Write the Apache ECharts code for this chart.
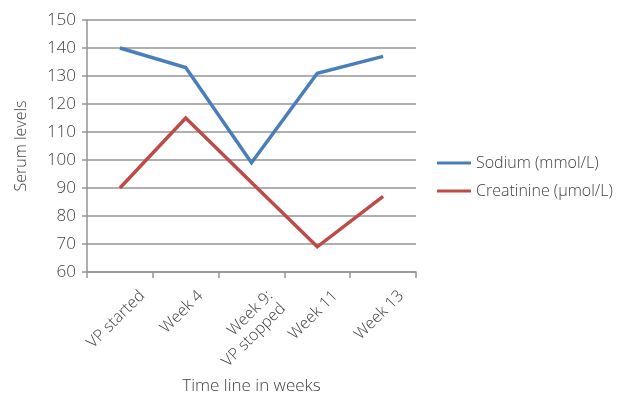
<!DOCTYPE html>
<html>
<head>
<meta charset="utf-8">
<script src="https://cdn.jsdelivr.net/npm/echarts@6/dist/echarts.min.js"></script>
<style>
  html, body { margin: 0; padding: 0; background: #fff; }
  #chart { width: 628px; height: 401px; }
</style>
</head>
<body>
<div id="chart"></div>
<script>
const categories = ['VP started', 'Week 4', 'Week 9:\nVP stopped', 'Week 11', 'Week 13'];
const sodium = [140, 133, 99, 131, 137];
const creatinine = [90, 115, 92, 69, 87];
const seriesNames = ['Sodium (mmol/L)', 'Creatinine (\u00b5mol/L)'];

const textColor = '#404040';
const font = '"Open Sans", "Noto Sans", sans-serif';
const labelSize = 16;
const labelLineHeight = 18;

// Excel centres the rotated label box under the category and hangs it from the axis.
// Centre-aligned text + right padding moves it back along the text, top padding moves it
// across; equal amounts of both give a straight drop of half the rotated box height.
const measureCtx = document.createElement('canvas').getContext('2d');
measureCtx.font = '300 ' + labelSize + 'px ' + font;
function labelStyle(text) {
  const lines = text.split('\n');
  const w = Math.max(...lines.map((l) => measureCtx.measureText(l).width));
  const h = lines.length * labelLineHeight;
  const along = (w + h) / 2 + 11;
  const across = Math.max(0, (w + h) / 4 - h / 2);
  // item textStyle does not inherit align from axisLabel, so set it here too
  return {
    align: 'center',
    verticalAlign: 'top',
    padding: [across, along, 0, 0],
    rich: {
      r: {
        align: 'right',
        color: textColor,
        fontSize: labelSize,
        fontWeight: 300,
        fontFamily: font,
        lineHeight: labelLineHeight
      }
    }
  };
}

const chart = echarts.init(document.getElementById('chart'), null, { renderer: 'canvas' });

chart.setOption({
  backgroundColor: '#fff',
  animation: false,
  grid: { left: 87, top: 20, right: 212, bottom: 129, containLabel: false, outerBoundsMode: 'none' },
  legend: {
    orient: 'vertical',
    left: 432,
    top: 150,
    itemWidth: 34,
    itemHeight: 3,
    itemGap: 12,
    icon: 'rect',
    textStyle: { color: textColor, fontSize: 16, fontWeight: 300, fontFamily: font },
    data: seriesNames
  },
  xAxis: {
    type: 'category',
    data: categories.map((c) => ({ value: c, textStyle: labelStyle(c) })),
    boundaryGap: true,
    name: 'Time line in weeks',
    nameLocation: 'middle',
    nameGap: 106,
    nameTextStyle: { color: textColor, fontSize: 17, fontWeight: 300, fontFamily: font },
    axisLine: { lineStyle: { color: '#959595', width: 1.5 } },
    axisTick: { show: true, length: 6, lineStyle: { color: '#959595', width: 1.5 } },
    axisLabel: {
      interval: 0,
      rotate: 45,
      color: textColor,
      fontSize: labelSize,
      fontWeight: 300,
      fontFamily: font,
      lineHeight: labelLineHeight,
      margin: 11,
      // multi-line labels sit flush right, as in Excel
      formatter: (v) => v.split('\n').map((l) => '{r|' + l + '}').join('\n')
    },
    splitLine: { show: false }
  },
  yAxis: {
    type: 'value',
    min: 60,
    max: 150,
    interval: 10,
    name: 'Serum levels',
    nameLocation: 'middle',
    nameGap: 58,
    nameRotate: 90,
    nameTextStyle: { color: textColor, fontSize: 16, fontWeight: 300, fontFamily: font },
    axisLine: { show: true, lineStyle: { color: '#959595', width: 1.5 } },
    axisTick: { show: true, length: 5, lineStyle: { color: '#959595', width: 1.5 } },
    axisLabel: { color: textColor, fontSize: 17, fontWeight: 300, fontFamily: font, margin: 11 },
    splitLine: { show: true, lineStyle: { color: '#959595', width: 1.5 } }
  },
  series: [
    {
      name: seriesNames[0],
      type: 'line',
      data: sodium,
      symbol: 'none',
      lineStyle: { color: '#4a7ebb', width: 3.5, join: 'miter' },
      itemStyle: { color: '#4a7ebb' }
    },
    {
      name: seriesNames[1],
      type: 'line',
      data: creatinine,
      symbol: 'none',
      lineStyle: { color: '#be4b48', width: 3.5, join: 'miter' },
      itemStyle: { color: '#be4b48' }
    }
  ]
});
</script>
</body>
</html>
